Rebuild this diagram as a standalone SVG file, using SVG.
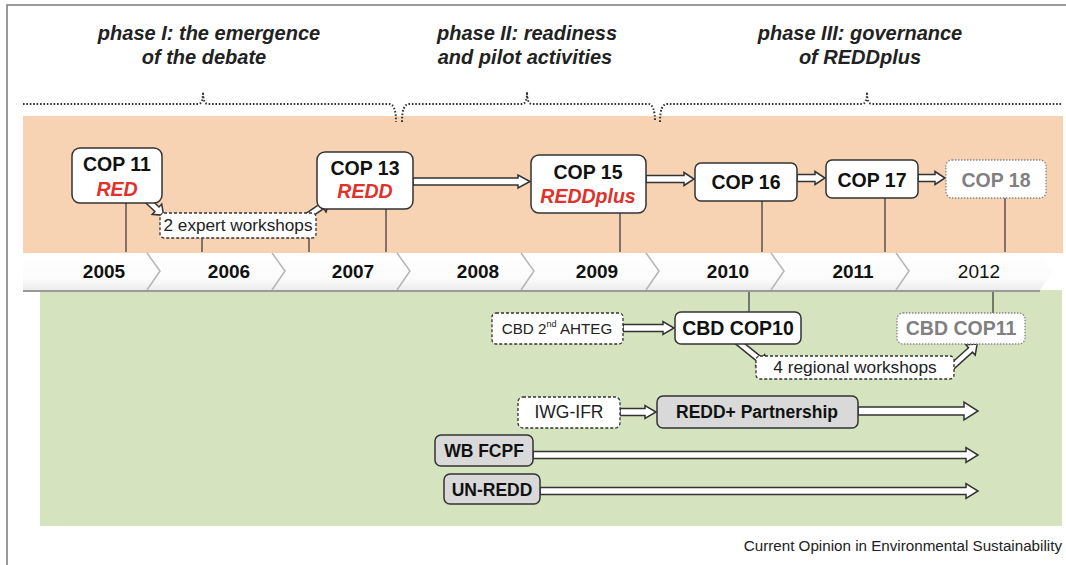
<svg xmlns="http://www.w3.org/2000/svg" width="1066" height="565" viewBox="0 0 1066 565">
<defs>
<linearGradient id="tl" x1="0" y1="0" x2="0" y2="1">
<stop offset="0" stop-color="#ffffff"/>
<stop offset="0.7" stop-color="#fbfbfb"/>
<stop offset="1" stop-color="#ececec"/>
</linearGradient>
</defs>
<style>
text{font-family:"Liberation Sans",Arial,sans-serif;}
.phase{font-size:20px;font-weight:bold;font-style:italic;fill:#222;text-anchor:middle;}
.brace{fill:none;stroke:#333;stroke-width:2;stroke-dasharray:1.6,1.8;}
.box{fill:#fff;stroke:#333;stroke-width:1.5;}
.dash{fill:#fff;stroke:#333;stroke-width:1.3;stroke-dasharray:3,2;}
.dot{fill:#fff;stroke:#888;stroke-width:1.3;stroke-dasharray:1.5,1.5;}
.grey{fill:#d9d9d9;stroke:#333;stroke-width:1.5;}
.b{font-weight:bold;fill:#111;text-anchor:middle;}
.red{font-weight:bold;font-style:italic;fill:#e0312a;text-anchor:middle;}
.n{fill:#222;text-anchor:middle;}
.g{font-weight:bold;fill:#808080;text-anchor:middle;}
.yr{font-size:19px;font-weight:bold;fill:#111;text-anchor:middle;}
.line{stroke:#333;stroke-width:1.2;fill:none;}
.arr{fill:#fff;stroke:#333;stroke-width:1.5;stroke-linejoin:miter;}
.chev{fill:none;stroke:#b5b5b5;stroke-width:1.5;}
</style>
<!-- frame -->
<path d="M7,565 V5 H1066" fill="none" stroke="#7a7a7a" stroke-width="1.5"/>
<!-- bands -->
<rect x="23" y="116" width="1040" height="137" fill="#f7d3b4"/>
<rect x="40" y="290" width="1022" height="236" fill="#d5e3bf"/>
<!-- phase headings -->
<g id="phase1">
<text class="phase" x="209" y="40">phase I: the emergence</text>
<text class="phase" x="204" y="64">of the debate</text>
<path class="brace" d="M23,104 H198 Q203,104 203,92 Q203,104 208,104 H389 Q396,104 396,122"/>
</g>
<g id="phase2">
<text class="phase" x="527" y="40">phase II: readiness</text>
<text class="phase" x="525" y="64">and pilot activities</text>
<path class="brace" d="M402,122 Q402,104 409,104 H522 Q527,104 527,92 Q527,104 532,104 H648 Q655,104 655,122"/>
</g>
<g id="phase3">
<text class="phase" x="860" y="40">phase III: governance</text>
<text class="phase" x="860" y="64">of REDDplus</text>
<path class="brace" d="M660,122 Q660,104 667,104 H862 Q867,104 867,92 Q867,104 872,104 H1062"/>
</g>
<!-- timeline -->
<g id="timeline">
<polygon points="23,253 1040,253 1053,271 1040,290 23,290" fill="url(#tl)"/>
<line x1="23" y1="291" x2="1040" y2="291" stroke="#9a9a9a" stroke-width="2"/>
<polyline class="chev" points="147,253 160,271 147,290"/>
<polyline class="chev" points="272,253 285,271 272,290"/>
<polyline class="chev" points="397,253 410,271 397,290"/>
<polyline class="chev" points="521,253 534,271 521,290"/>
<polyline class="chev" points="646,253 659,271 646,290"/>
<polyline class="chev" points="771,253 784,271 771,290"/>
<polyline class="chev" points="896,253 909,271 896,290"/>
<text class="yr" x="104" y="278">2005</text>
<text class="yr" x="229" y="278">2006</text>
<text class="yr" x="353" y="278">2007</text>
<text class="yr" x="478" y="278">2008</text>
<text class="yr" x="597" y="278">2009</text>
<text class="yr" x="728" y="278">2010</text>
<text class="yr" x="853" y="278">2011</text>
<text class="yr" x="979" y="278" style="font-weight:normal">2012</text>
</g>
<!-- connectors -->
<g id="connectors">
<line class="line" x1="126" y1="203" x2="126" y2="252"/>
<line class="line" x1="202" y1="238" x2="202" y2="252"/>
<line class="line" x1="309" y1="238" x2="309" y2="252"/>
<line class="line" x1="386" y1="209" x2="386" y2="252"/>
<line class="line" x1="620" y1="213" x2="620" y2="252"/>
<line class="line" x1="762" y1="201" x2="762" y2="252"/>
<line class="line" x1="885" y1="198" x2="885" y2="252"/>
<line class="line" x1="1005" y1="198" x2="1005" y2="252"/>
<line class="line" x1="749" y1="292" x2="749" y2="312"/>
<line class="line" x1="993" y1="292" x2="993" y2="313"/>
<path class="arr" d="M0,-3 H15 V-7 L24,0 L15,7 V3 H0 Z" transform="translate(146,199) rotate(43)"/>
<path class="arr" d="M0,-3 H23 V-7 L32,0 L23,7 V3 H0 Z" transform="translate(303,219) rotate(-34)"/>
<path class="arr" d="M0,-3 H35 V-7 L44,0 L35,7 V3 H0 Z" transform="translate(733,338) rotate(39)"/>
<path class="arr" d="M0,-3 H33 V-7 L42,0 L33,7 V3 H0 Z" transform="translate(946,372) rotate(-42)"/>
<path class="arr" d="M413,178 H518 V175 L530,181.5 L518,188 V185 H413 Z"/>
<path class="arr" d="M646,175.5 H684 V172.5 L694,179 L684,185.5 V182.5 H646 Z"/>
<path class="arr" d="M797,174.5 H815 V171.5 L825,178 L815,184.5 V181.5 H797 Z"/>
<path class="arr" d="M918,174.5 H935 V171.5 L945,178 L935,184.5 V181.5 H918 Z"/>
<path class="arr" d="M623,324.5 H663 V321.5 L674,328 L663,334.5 V331.5 H623 Z"/>
<path class="arr" d="M620,408.5 H645 V405.5 L656,412 L645,418.5 V415.5 H620 Z"/>
<path class="arr" d="M858,407 H964 V402 L978,411 L964,420 V415 H858 Z"/>
<path class="arr" d="M533,451.5 H966 V447.5 L978,455 L966,462.5 V458.5 H533 Z"/>
<path class="arr" d="M540,487.5 H966 V483.5 L978,491 L966,498.5 V494.5 H540 Z"/>
</g>
<!-- nodes -->
<g id="cop11">
<rect class="box" x="72" y="148" width="90" height="55" rx="8"/>
<text class="b" x="117" y="171" font-size="19.5">COP 11</text>
<text class="red" x="117" y="196" font-size="19.5">RED</text>
</g>
<g id="expert">
<rect class="dash" x="160" y="213" width="156" height="25" rx="4"/>
<text class="n" x="238" y="231" font-size="17.2">2 expert workshops</text>
</g>
<g id="cop13">
<rect class="box" x="317" y="152" width="96" height="57" rx="8"/>
<text class="b" x="365" y="175" font-size="19.5">COP 13</text>
<text class="red" x="365" y="198" font-size="19.5">REDD</text>
</g>
<g id="cop15">
<rect class="box" x="531" y="155" width="115" height="58" rx="8"/>
<text class="b" x="588" y="179" font-size="19.5">COP 15</text>
<text class="red" x="588" y="203" font-size="19.5">REDDplus</text>
</g>
<g id="cop16">
<rect class="box" x="695" y="163" width="102" height="38" rx="6"/>
<text class="b" x="746" y="189" font-size="19.5">COP 16</text>
</g>
<g id="cop17">
<rect class="box" x="826" y="160" width="92" height="38" rx="6"/>
<text class="b" x="872" y="187" font-size="19.5">COP 17</text>
</g>
<g id="cop18">
<rect class="dot" x="946" y="160" width="100" height="38" rx="6"/>
<text class="g" x="996" y="187" font-size="19.5">COP 18</text>
</g>
<g id="ahteg">
<rect class="dash" x="492" y="313" width="131" height="31" rx="4"/>
<text class="n" x="557" y="334" font-size="15.2">CBD 2<tspan font-size="9" dy="-7">nd</tspan><tspan dy="7"> AHTEG</tspan></text>
</g>
<g id="cbdcop10">
<rect class="box" x="675" y="312" width="126" height="32" rx="6"/>
<text class="b" x="738" y="335" font-size="19.5">CBD COP10</text>
</g>
<g id="cbdcop11">
<rect class="dot" x="897" y="313" width="128" height="31" rx="6"/>
<text class="g" x="961" y="335" font-size="19.5">CBD COP11</text>
</g>
<g id="regional">
<rect class="dash" x="756" y="356" width="198" height="23" rx="4"/>
<text class="n" x="855" y="373" font-size="17.3">4 regional workshops</text>
</g>
<g id="iwgifr">
<rect class="dash" x="518" y="397" width="102" height="31" rx="5"/>
<text class="n" x="569" y="418" font-size="17.5">IWG-IFR</text>
</g>
<g id="reddpartnership">
<rect class="grey" x="657" y="396" width="201" height="32" rx="6"/>
<text class="b" x="757" y="418" font-size="17.5">REDD+ Partnership</text>
</g>
<g id="wbfcpf">
<rect class="grey" x="435" y="435" width="98" height="31" rx="6"/>
<text class="b" x="484" y="457" font-size="17.5">WB FCPF</text>
</g>
<g id="unredd">
<rect class="grey" x="444" y="474" width="96" height="30" rx="6"/>
<text class="b" x="492" y="496" font-size="17.5">UN-REDD</text>
</g>
<text x="1062" y="551" font-size="15.2" fill="#222" text-anchor="end">Current Opinion in Environmental Sustainability</text>
</svg>
